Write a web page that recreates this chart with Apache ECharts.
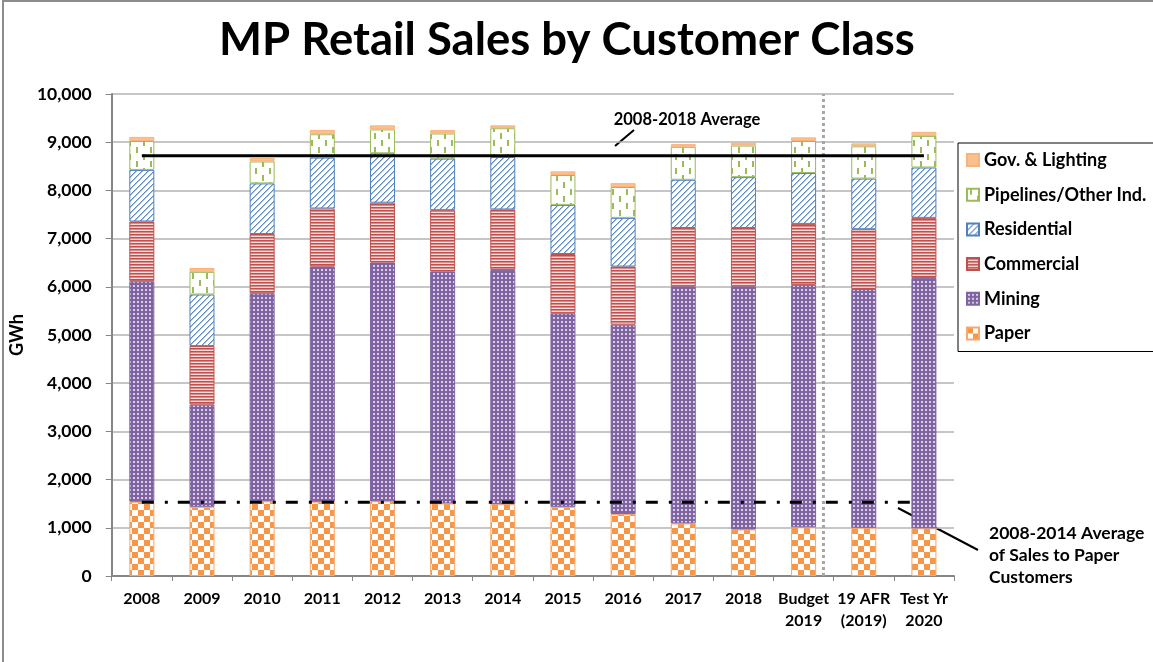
<!DOCTYPE html>
<html>
<head>
<meta charset="utf-8">
<script src="https://cdn.jsdelivr.net/npm/echarts@6/dist/echarts.min.js"></script>
<style>
  html, body { margin: 0; padding: 0; background: #fff; }
  #chart { width: 1153px; height: 662px; }
</style>
</head>
<body>
<div id="chart"></div>
<script>
// values (GWh)
const categories = ['2008', '2009', '2010', '2011', '2012', '2013', '2014', '2015', '2016', '2017', '2018', 'Budget\n2019', '19 AFR\n(2019)', 'Test Yr\n2020']
const paper = [1540, 1435, 1550, 1540, 1550, 1505, 1490, 1435, 1285, 1090, 965, 1010, 1000, 990]
const mining = [4575, 2120, 4315, 4880, 4955, 4815, 4860, 4015, 3930, 4920, 5045, 5030, 4955, 5195]
const commercial = [1240, 1215, 1230, 1205, 1240, 1270, 1255, 1230, 1205, 1210, 1210, 1265, 1240, 1245]
const residential = [1070, 1070, 1050, 1055, 1025, 1070, 1090, 1020, 1010, 1000, 1055, 1055, 1050, 1045]
const pipelines = [600, 470, 455, 485, 495, 520, 595, 620, 640, 685, 655, 665, 670, 655]
const govLighting = [85, 80, 70, 90, 85, 70, 60, 75, 80, 55, 60, 75, 60, 85]

const avgAll = 8720      // 2008-2018 average
const avgPaper = 1530    // 2008-2014 average paper sales
// positions on the hidden 0..14 axis (category i spans i..i+1)
const avgAllSpan = [0.5, 13.5]
const avgPaperSpan = [0.5, 13.4]
const separatorAt = 11.83

const FONT = 'Lato'

function makePattern(w, h, draw) {
  const c = document.createElement('canvas')
  c.width = w
  c.height = h
  const ctx = c.getContext('2d')
  ctx.fillStyle = '#fff'
  ctx.fillRect(0, 0, w, h)
  draw(ctx)
  return { image: c, repeat: 'repeat' }
}

const paperFill = makePattern(12, 12, ctx => {
  ctx.fillStyle = '#F79646'
  ctx.fillRect(0, 0, 6, 6)
  ctx.fillRect(6, 6, 6, 6)
})
const miningFill = makePattern(4, 4, ctx => {
  ctx.fillStyle = '#8064A2'
  ctx.fillRect(0, 0, 4, 4)
  ctx.fillStyle = '#d8cfe6'
  ctx.fillRect(1, 1, 2, 2)
})
const commercialFill = makePattern(1, 3, ctx => {
  ctx.fillStyle = '#C0504D'
  ctx.fillRect(0, 0, 1, 1)
  ctx.fillStyle = '#d98c8a'
  ctx.fillRect(0, 1, 1, 1)
  ctx.fillStyle = '#f5dcdb'
  ctx.fillRect(0, 2, 1, 1)
})
const residentialFill = makePattern(6, 6, ctx => {
  for (let x = 0; x < 6; x++) {
    for (let y = 0; y < 6; y++) {
      const k = (x + y) % 6
      if (k === 0) { ctx.fillStyle = '#5b8ac4'; ctx.fillRect(x, y, 1, 1) }
      else if (k === 1) { ctx.fillStyle = '#a9c1e0'; ctx.fillRect(x, y, 1, 1) }
    }
  }
})
const pipelinesFill = makePattern(14, 14, ctx => {
  ctx.fillStyle = '#9BBB59'
  ctx.fillRect(3, 0, 2, 6)
  ctx.fillRect(10, 7, 2, 6)
})

function barSeries(name, data, fill, border) {
  return {
    name: name,
    type: 'bar',
    stack: 'sales',
    barWidth: 25,
    data: data,
    itemStyle: { color: fill, borderColor: border, borderWidth: 1 },
    emphasis: { disabled: true },
  }
}

const chart = echarts.init(document.getElementById('chart'))

const option = {
  animation: false,
  backgroundColor: '#fff',
  title: {
    text: 'MP Retail Sales by Customer Class',
    left: 214,
    top: 12,
    textStyle: { fontFamily: FONT, fontWeight: 'bold', fontSize: 45.5, color: '#000' },
  },
  legend: {
    orient: 'vertical',
    left: 958,
    top: 143,
    padding: [8, 30, 9, 8],
    itemWidth: 12,
    itemHeight: 12,
    itemGap: 16.7,
    borderColor: '#000',
    borderWidth: 1,
    icon: 'rect',
    data: ['Gov. & Lighting', 'Pipelines/Other Ind.', 'Residential', 'Commercial', 'Mining', 'Paper'],
    textStyle: { fontFamily: FONT, fontWeight: 'bold', fontSize: 18, lineHeight: 18, color: '#000' },
  },
  grid: { left: 108, right: 199, top: 94, bottom: 86 },
  xAxis: [
    {
      type: 'category',
      data: categories,
      axisLine: { lineStyle: { color: '#868686', width: 2 } },
      axisTick: { show: true, length: 5, lineStyle: { color: '#868686' } },
      axisLabel: {
        interval: 0,
        margin: 12,
        fontFamily: FONT,
        fontWeight: 'bold',
        fontSize: 16,
        lineHeight: 22,
        color: '#000',
      },
    },
    { type: 'value', min: 0, max: 14, show: false },
  ],
  yAxis: {
    type: 'value',
    name: 'GWh',
    nameLocation: 'middle',
    nameGap: 64,
    nameTextStyle: { fontFamily: FONT, fontWeight: 'bold', fontSize: 18, color: '#000' },
    min: 0,
    max: 10000,
    interval: 1000,
    axisLine: { show: true, lineStyle: { color: '#868686', width: 2 } },
    axisTick: { show: true, length: 6, lineStyle: { color: '#868686' } },
    splitLine: { lineStyle: { color: '#b3b3b3', width: 1.5 } },
    axisLabel: {
      margin: 20,
      fontFamily: FONT,
      fontWeight: 'bold',
      fontSize: 17.5,
      color: '#000',
      formatter: v => v.toLocaleString('en-US'),
    },
  },
  series: [
    barSeries('Paper', paper, paperFill, '#F9A86C'),
    barSeries('Mining', mining, miningFill, '#8064A2'),
    barSeries('Commercial', commercial, commercialFill, '#C0504D'),
    barSeries('Residential', residential, residentialFill, '#4F81BD'),
    barSeries('Pipelines/Other Ind.', pipelines, pipelinesFill, '#9BBB59'),
    barSeries('Gov. & Lighting', govLighting, '#FAC090', '#F9B27A'),
    {
      name: 'separator',
      type: 'line',
      xAxisIndex: 1,
      symbol: 'none',
      silent: true,
      data: [[separatorAt, 0], [separatorAt, 10000]],
      lineStyle: { color: '#a6a6a6', width: 3, type: [3, 3] },
    },
    {
      name: '2008-2018 Average',
      type: 'line',
      xAxisIndex: 1,
      symbol: 'none',
      silent: true,
      data: avgAllSpan.map(x => [x, avgAll]),
      lineStyle: { color: '#000', width: 3 },
    },
    {
      name: '2008-2014 Average of Sales to Paper Customers',
      type: 'line',
      xAxisIndex: 1,
      symbol: 'none',
      silent: true,
      data: avgPaperSpan.map(x => [x, avgPaper]),
      lineStyle: { color: '#000', width: 3, type: [12, 11, 3, 10] },
    },
  ],
  graphic: [
    {
      type: 'rect',
      shape: { x: 3, y: 1, width: 1200, height: 700 },
      style: { fill: 'none', stroke: '#8c8c8c', lineWidth: 2 },
      silent: true,
    },
    {
      type: 'text',
      x: 687,
      y: 120,
      style: {
        text: '2008-2018 Average',
        align: 'center',
        verticalAlign: 'middle',
        font: 'bold 16.5px ' + FONT,
        fill: '#000',
      },
    },
    {
      type: 'line',
      shape: { x1: 634, y1: 130, x2: 615, y2: 146 },
      style: { stroke: '#000', lineWidth: 2 },
    },
    {
      type: 'line',
      shape: { x1: 898, y1: 508, x2: 978, y2: 550 },
      style: { stroke: '#000', lineWidth: 2 },
    },
    {
      type: 'text',
      x: 989,
      y: 522,
      style: {
        text: '2008-2014 Average\nof Sales to Paper\nCustomers',
        align: 'left',
        verticalAlign: 'top',
        lineHeight: 22,
        font: 'bold 17.5px ' + FONT,
        fill: '#000',
      },
    },
  ],
}

chart.setOption(option)
</script>
</body>
</html>
